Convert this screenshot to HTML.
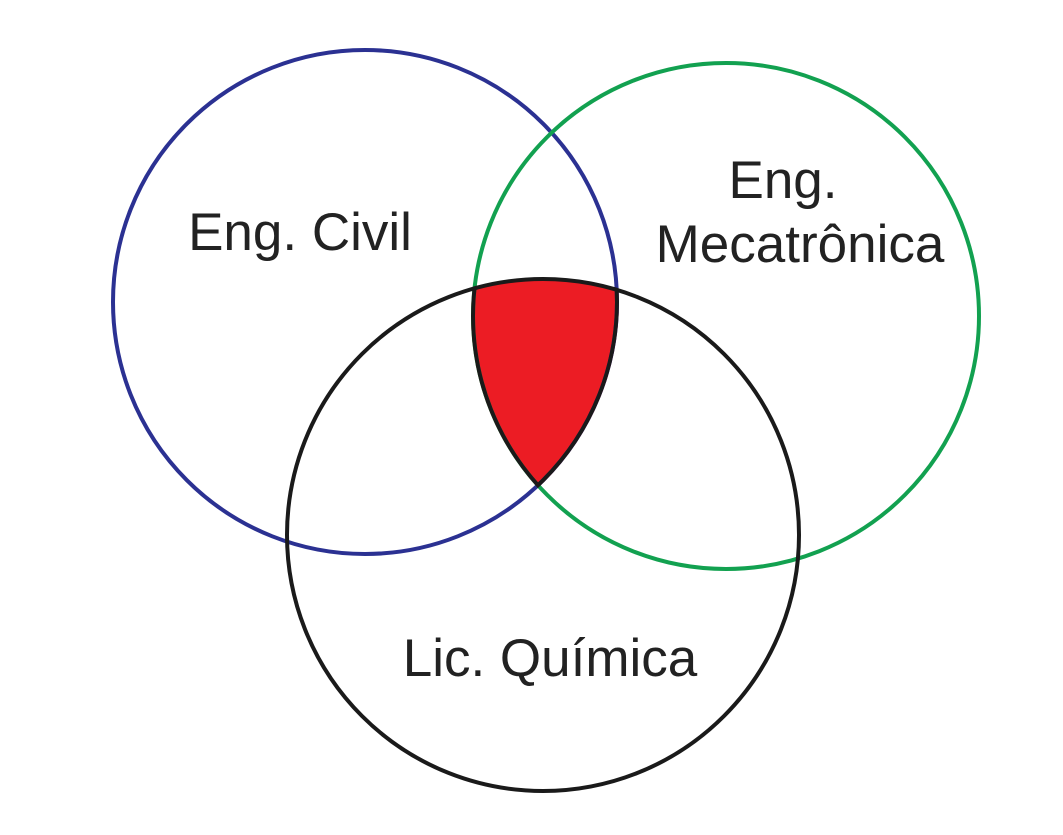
<!DOCTYPE html>
<html><head><meta charset="utf-8"><style>
html,body{margin:0;padding:0;background:#fff;}
svg{display:block;}
text{font-family:"Liberation Sans",Arial,sans-serif;font-size:53px;fill:#222;}
</style></head><body>
<svg width="1063" height="835" viewBox="0 0 1063 835" xmlns="http://www.w3.org/2000/svg">
<defs>
<clipPath id="cb"><circle cx="365" cy="302" r="254"/></clipPath>
<clipPath id="cg"><circle cx="726" cy="316" r="255"/></clipPath>
<clipPath id="ck"><circle cx="543" cy="535" r="258"/></clipPath>
</defs>
<g clip-path="url(#cb)"><g clip-path="url(#cg)"><circle cx="543" cy="535" r="256" fill="#ec1c24"/></g></g>
<circle cx="365" cy="302" r="252" fill="none" stroke="#2b3192" stroke-width="4"/>
<circle cx="726" cy="316" r="253" fill="none" stroke="#12a150" stroke-width="4"/>
<circle cx="543" cy="535" r="256" fill="none" stroke="#1a1a1a" stroke-width="4"/>
<g clip-path="url(#cb)"><g clip-path="url(#cg)"><g clip-path="url(#ck)">
<circle cx="365" cy="302" r="252" fill="none" stroke="#1a1a1a" stroke-width="4"/>
<circle cx="726" cy="316" r="253" fill="none" stroke="#1a1a1a" stroke-width="4"/>
</g></g></g>
<text x="300" y="250" text-anchor="middle">Eng. Civil</text>
<text x="783" y="198" text-anchor="middle">Eng.</text>
<text x="800" y="262" text-anchor="middle">Mecatrônica</text>
<text x="550" y="676" text-anchor="middle">Lic. Química</text>
</svg>
</body></html>
